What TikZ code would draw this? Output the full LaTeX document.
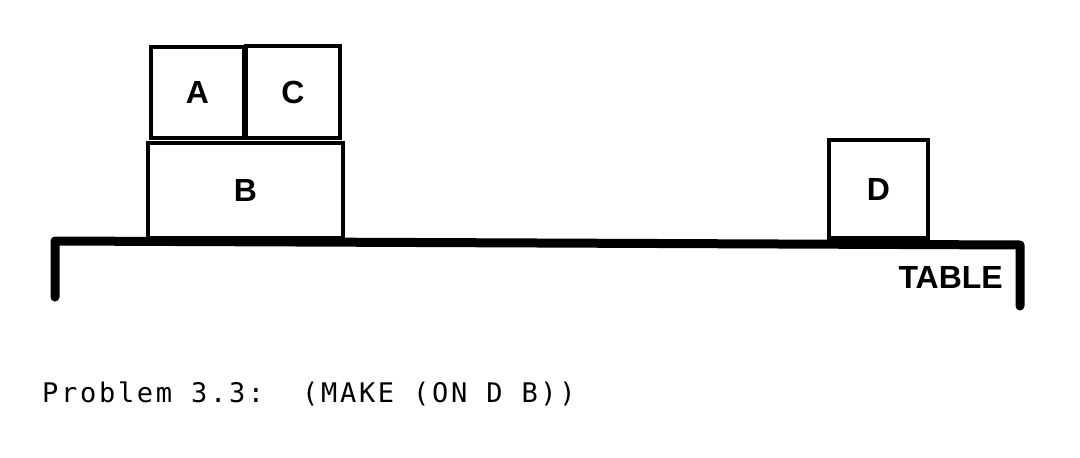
\documentclass[tikz,border=0pt]{standalone}
\usepackage{fontspec}
\setmainfont{Liberation Sans}
\newfontfamily\capfont[LetterSpace=10]{DejaVu Sans Mono}
\begin{document}
\begin{tikzpicture}[x=1pt,y=-1pt,
  block/.style={draw=black, line width=4.5pt, rectangle, inner sep=0pt,
    font=\fontsize{32}{32}\selectfont\bfseries},
  tableline/.style={draw=black, line width=9pt, line cap=round, line join=round},
  lbl/.style={font=\fontsize{32}{32}\selectfont\bfseries, inner sep=0pt}]
\useasboundingbox[fill=white] (0,0) rectangle (1080,458);
% blocks
\node[block, minimum width=93pt, minimum height=91pt] (A) at (197.5,92.5) {A};
\node[block, minimum width=94pt, minimum height=92pt] (C) at (293,92) {C};
\node[block, minimum width=195pt, minimum height=95pt] (B) at (245.5,190.5) {B};
\node[block, minimum width=99pt, minimum height=98pt] (D) at (878.5,189) {D};
% table
\coordinate (tl) at (55,241);
\coordinate (tr) at (1020,245);
\coordinate (bl) at (55,297);
\coordinate (br) at (1020,306);
\draw[tableline] (bl) -- (tl) -- (tr) -- (br);
\node[lbl, anchor=east] (T) at (1003,277) {TABLE};
% caption
\node[anchor=base west, inner sep=0pt, font=\capfont\fontsize{27}{27}\selectfont] (cap) at (42,402) {Problem 3.3:~~(MAKE (ON D B))};
\end{tikzpicture}
\end{document}
